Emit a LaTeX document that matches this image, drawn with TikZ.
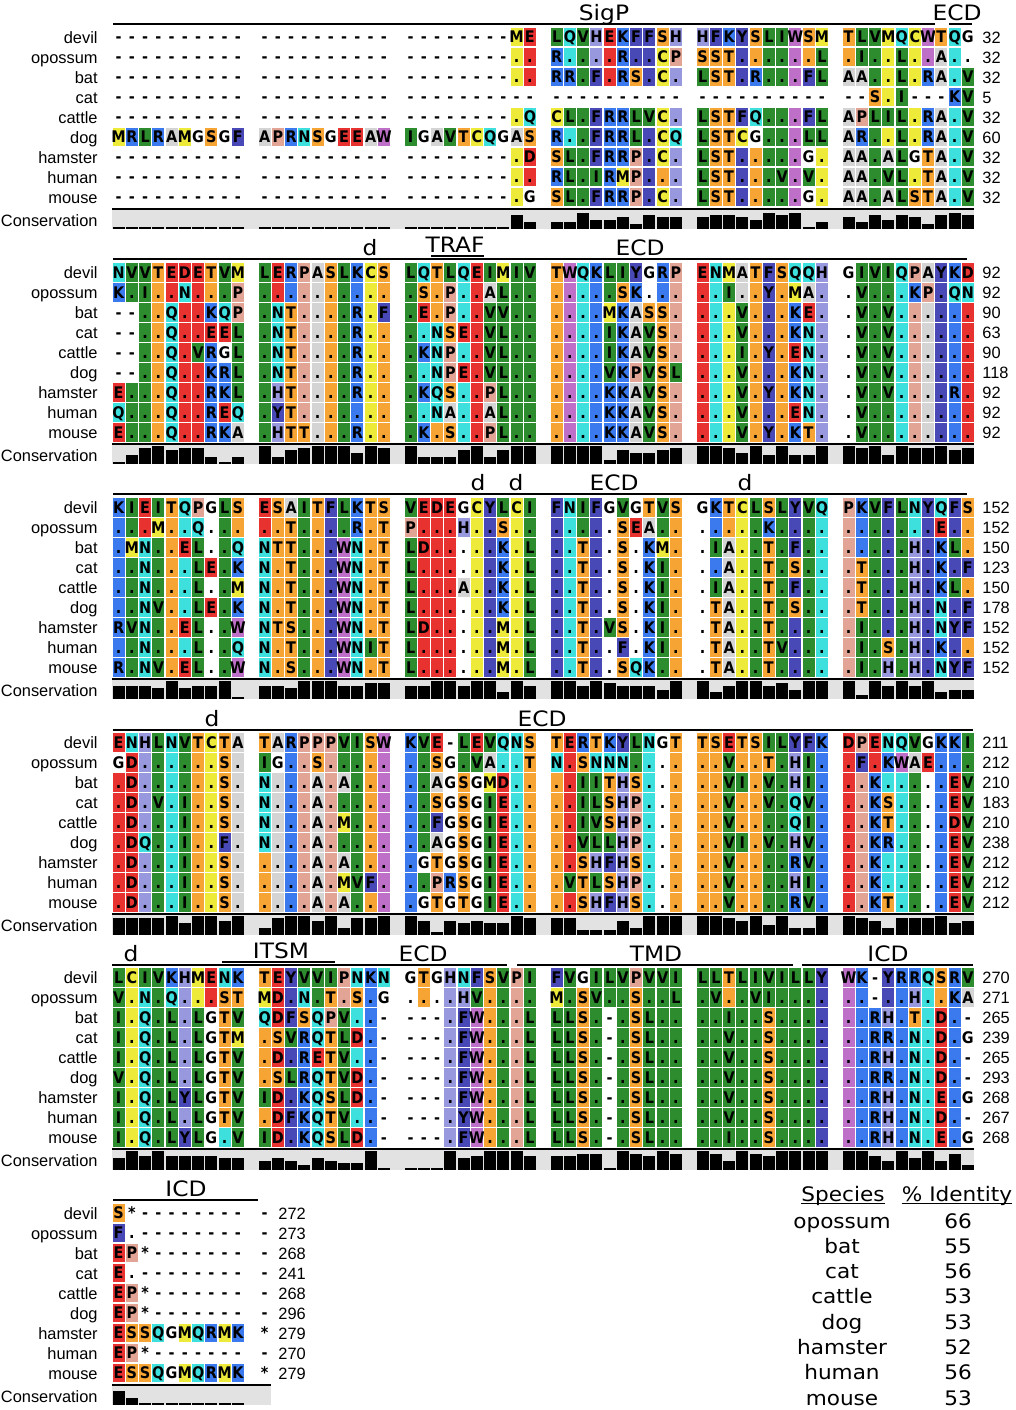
\documentclass[tikz,border=0pt]{standalone}
\usepackage{fontspec}
\setmainfont{DejaVu Sans}
\newfontfamily\resfont[FakeStretch=0.9]{DejaVu Sans}
\newfontfamily\hdrfont[FakeStretch=1.1]{DejaVu Sans}
\newfontfamily\tabfont[FakeStretch=1.08]{DejaVu Sans}
\newfontfamily\lblfont{Liberation Sans}
\usetikzlibrary{positioning}

% residue classes
\definecolor{hydro}{RGB}{45,140,45}
\definecolor{sulf}{RGB}{238,234,58}
\definecolor{acid}{RGB}{232,50,48}
\definecolor{amide}{RGB}{62,224,222}
\definecolor{basic}{RGB}{58,122,238}
\definecolor{hist}{RGB}{152,152,222}
\definecolor{arom}{RGB}{72,72,182}
\definecolor{trp}{RGB}{190,112,200}
\definecolor{hydrox}{RGB}{246,164,52}
\definecolor{pro}{RGB}{226,164,148}
\definecolor{ala}{RGB}{212,212,212}
\definecolor{consgrey}{RGB}{226,226,226}

\tikzstyle{res}=[inner sep=0pt, anchor=base, font=\resfont\bfseries\fontsize{8}{9}\selectfont]
\tikzstyle{spname}=[inner sep=0pt, anchor=base east, font=\lblfont\fontsize{8.2}{10}\selectfont]
\tikzstyle{endnum}=[inner sep=0pt, anchor=base west, font=\lblfont\fontsize{8.2}{10}\selectfont]
\tikzstyle{region}=[inner sep=0pt, anchor=base, font=\hdrfont\fontsize{10.6}{12}\selectfont]
\tikzstyle{regline}=[line width=1pt]
\tikzstyle{tabtext}=[inner sep=0pt, anchor=base, font=\tabfont\fontsize{10}{12}\selectfont]

\makeatletter
% letter -> colour
\def\rescol#1#2{\expandafter\def\csname fc-#1\endcsname{#2}}
\rescol{I}{hydro}\rescol{L}{hydro}\rescol{V}{hydro}
\rescol{M}{sulf}\rescol{C}{sulf}
\rescol{D}{acid}\rescol{E}{acid}
\rescol{N}{amide}\rescol{Q}{amide}
\rescol{K}{basic}\rescol{R}{basic}
\rescol{H}{hist}
\rescol{F}{arom}\rescol{Y}{arom}
\rescol{W}{trp}
\rescol{S}{hydrox}\rescol{T}{hydrox}
\rescol{P}{pro}
\rescol{A}{ala}

\newcount\colno
\newcount\blk
\def\dotch{.}
% count residues per column, keep the largest count
\newcommand\tallyres{%
  \if\fillch-\else\if\fillch*\else
    \edef\kname{k-\the\blk-\the\colno-\fillch}%
    \ifcsname\kname\endcsname
      \expandafter\xdef\csname\kname\endcsname{\the\numexpr\csname\kname\endcsname+1\relax}%
    \else
      \expandafter\xdef\csname\kname\endcsname{1}%
    \fi
    \edef\mxname{mx-\the\blk-\the\colno}%
    \ifcsname\mxname\endcsname\else\expandafter\xdef\csname\mxname\endcsname{0}\fi
    \ifnum\csname\kname\endcsname>\csname\mxname\endcsname\relax
      \expandafter\xdef\csname\mxname\endcsname{\csname\kname\endcsname}%
    \fi
  \fi\fi
}
\newcommand\drawres[2]{% #1 row, #2 residue
  \edef\resch{#2}%
  \ifx\resch\dotch
    \edef\fillch{\csname dv-\the\colno\endcsname}%
  \else
    \let\fillch\resch
  \fi
  \ifnum#1=0\relax
    \expandafter\xdef\csname dv-\the\colno\endcsname{\resch}%
  \fi
  \tallyres
  \pgfmathsetmacro\resx{112+146*int(\the\colno/10)+13.25*mod(\the\colno,10)}%
  \pgfmathsetmacro\resy{\basey+20*#1}%
  \ifcsname fc-\fillch\endcsname
    \edef\fillcol{\csname fc-\fillch\endcsname}%
    \fill[fill=\fillcol] (\resx+0.6,\resy-9.4) rectangle (\resx+12.65,\resy+9.4);
  \fi
  \node[res] (r-\the\blk-#1-\the\colno) at (\resx+6.62,\resy+5.8) {\resch};
  \global\advance\colno by 1
}
\newcommand\alnrow[3]{% #1 row, #2 residues, #3 end number
  \global\colno=0
  \@tfor\rch:=#2\do{\drawres{#1}{\rch}}%
  \node[endnum] (num-\the\blk-#1) at (\numx,\basey+20*#1+6) {#3};
}
\makeatother

\newcommand\spnames{%
  \foreach \nm [count=\i from 0] in {devil,opossum,bat,cat,cattle,dog,hamster,human,mouse}
    \node[spname] (sp-\the\blk-\i) at (98,\basey+20*\i+6) {\nm};
}
\newcommand\consrow[2]{% #1 last column, #2 right end
  \node[spname] (cons-\the\blk) at (98,\basey+189) {Conservation};
  \fill[consgrey] (112,\basey+172) rectangle (#2,\basey+192);
  \draw[line width=1pt] (112,\basey+171.5) -- (#2,\basey+171.5);
  \foreach \c in {0,...,#1}{
    \ifcsname mx-\the\blk-\c\endcsname
      \pgfmathsetmacro\resx{112+146*int(\c/10)+13.25*mod(\c,10)}
      \pgfmathsetmacro\barh{max(1.6,18.5*(\csname mx-\the\blk-\c\endcsname-1)/8)}
      \fill (\resx+0.6,\basey+192) rectangle (\resx+12.65,\basey+192-\barh);
    \fi
  }
}

\begin{document}
\begin{tikzpicture}[x=0.5pt,y=-0.5pt]
\useasboundingbox (0,0) rectangle (1016,1410);

% block 1
\def\basey{37}\def\numx{982}\global\blk=1
\spnames
\alnrow{0}{---------- ---------- --------ME LQVHEKFFSH HFKYSLIWSM TLVMQCWTQG}{32}
\alnrow{1}{---------- ---------- --------.. R....R..CP SST......L .I..L..A..}{32}
\alnrow{2}{---------- ---------- --------.. RR.F.RS.C. LST.R...FL AA..L.RA.V}{32}
\alnrow{3}{---------- ---------- ---------- ---------- ---------- --S.I---KV}{5}
\alnrow{4}{---------- ---------- --------.Q CL.FRRLVC. LSTFQ...FL APLIL.RA.V}{32}
\alnrow{5}{MRLRAMGSGF APRNSGEEAW IGAVTCQGAS R..FRRL.CQ LSTCG...LL AR..L.RA.V}{60}
\alnrow{6}{---------- ---------- --------.D SL.FRRP.C. LST.....G. AA.ALGTA.V}{32}
\alnrow{7}{---------- ---------- --------.. RL.IRMP... LST...V.V. AA.VL.TA.V}{32}
\alnrow{8}{---------- ---------- --------.G SL.FRRP.C. LST.....G. AA.ALSTA.V}{32}
\consrow{59}{974}
\draw[regline] (113,24) -- (935,24);
\draw[regline] (949,24) -- (972,24);
\node[region] (sigp) at (604,20.5) {SigP};
\node[region] (ecd-1) at (957,20.5) {ECD};

% block 2
\def\basey{272.2}\global\blk=2
\spnames
\alnrow{0}{NVVTEDETVM LERPASLKCS LQTLQEIMIV TWQKLIYGRP ENMATFSQQH GIVIQPAYKD}{92}
\alnrow{1}{K.I..N...P .......... .S.P..AL.. .....SK... ..I..Y.MA. .V...KP.QN}{92}
\alnrow{2}{--..Q..KQP .NT....R.F .E.P..VV.. ....MKASS. ...V...KE. .V.V......}{90}
\alnrow{3}{--..Q..EEL .NT....R.. ..NSE.VL.. ....IKAVS. ...V...KN. .V.V......}{63}
\alnrow{4}{--..Q.VRGL .NT....R.. .KNP..VL.. ....IKAVS. ...I.Y.EN. .V.V......}{90}
\alnrow{5}{--..Q..KRL .NT....R.. ..NPE.VL.. ....VKPVSL ...V...KN. .V.V......}{118}
\alnrow{6}{E...Q..RKL .HT....R.. .KQS..PL.. ....KKAVS. ...V.Y.KN. .V.V....R.}{92}
\alnrow{7}{Q...Q..REQ .YT....... ..NA..AL.. ....KKAVS. ...V...EN. .V........}{92}
\alnrow{8}{E...Q..RKA .HTT...R.. .K.S..PL.. ....KKAVS. ...V.Y.KT. .V........}{92}
\consrow{59}{974}
\draw[regline] (113,259.2) -- (967,259.2);
\draw[regline] (431,256.2) -- (484,256.2);
\node[region] (d-2a) at (370,255.7) {d};
\node[region] (traf) at (455,252.7) {TRAF};
\node[region] (ecd-2) at (640,255.7) {ECD};

% block 3
\def\basey{507.4}\global\blk=3
\spnames
\alnrow{0}{KIEITQPGLS ESAITFLKTS VEDEGCYLCI FNIFGVGTVS GKTCLSLYVQ PKVFLNYQFS}{152}
\alnrow{1}{...M..Q... ..T....R.T P...H..S.. .....SEA.. .....K.... .......E..}{152}
\alnrow{2}{.MN..EL..Q NTT...WN.T LD.....K.L ..T..S.KM. .IA..T.F.. .....H.KL.}{150}
\alnrow{3}{..N...LE.K N.T...WN.T L......K.L ..T..S.KI. ..A..T.S.. .T...H.K.F}{123}
\alnrow{4}{..N...L..M N.T...WN.T L...A..K.L ..T..S.KI. .IA..T.F.. .T...H.KL.}{150}
\alnrow{5}{..NV..LE.K N.T...WN.T L......K.L ..T..S.KI. .TA..T.S.. .T...H.N.F}{178}
\alnrow{6}{RVN..EL..W NTS...WN.T LD.....M.L ..T.VS.KI. .TA..T.... .I...H.NYF}{152}
\alnrow{7}{..N...L..Q N.T...WNIT L......M.L ..T..F.KI. .TA..TV... .I.S.H.K..}{152}
\alnrow{8}{R.NV.EL..W N.S...WN.T L......M.L ..T..SQK.. .TA..T.... .I.H.H.NYF}{152}
\consrow{59}{974}
\draw[regline] (113,494.4) -- (967,494.4);
\node[region] (d-3a) at (478,490.9) {d};
\node[region] (d-3b) at (516,490.9) {d};
\node[region] (ecd-3) at (614,490.9) {ECD};
\node[region] (d-3c) at (745,490.9) {d};

% block 4
\def\basey{742.6}\global\blk=4
\spnames
\alnrow{0}{ENHLNVTCTA TARPPPVISW KVE-LEVQNS TERTKYLNGT TSETSILYFK DPENQVGKKI}{211}
\alnrow{1}{GD......S. IG..S..... ..SG.VA..T N.SNNN.... ..V..T.HI. .F.KWAE...}{212}
\alnrow{2}{.D......S. N...A.A... ..AGSGMD.. ..IITHS... ..VI.V.HI. ..K.....EV}{210}
\alnrow{3}{.D.V.I..S. N...A..... ..SGSGIE.. ..ILSHP... ..V..V.QV. ..KS....EV}{183}
\alnrow{4}{.D...I..S. N...A.M... ..FGSGIE.. ..IVSHP... ..V....QI. ..KT....DV}{210}
\alnrow{5}{.DQ..I..F. N...A..... ..AGSGIE.. ..VLLHP... ..VI.V.HV. ..KR....EV}{238}
\alnrow{6}{.D...I..S. ....A.A... .GTGSGIE.. ..SHFHS... ..V....RV. ..K.....EV}{212}
\alnrow{7}{.D...I..S. ....A.MVF. ..PRSGIE.. .VTLSHP... ..V....HI. ..K.....EV}{212}
\alnrow{8}{.D...I..S. ....A.A... .GTGTGIE.. ..SHFHS... ..V....RV. ..KT....EV}{212}
\consrow{59}{974}
\draw[regline] (113,729.6) -- (973,729.6);
\node[region] (d-4) at (212,726.1) {d};
\node[region] (ecd-4) at (542,726.1) {ECD};

% block 5
\def\basey{977.8}\global\blk=5
\spnames
\alnrow{0}{LCIVKHMENK TEYVVIPNKN GTGHNFSVPI FVGILVPVVI LLTLIVILLY WK-YRRQSRV}{270}
\alnrow{1}{V.N.Q...ST MD.N.T.S.G ....HV.... M.SV..S..L .V..VI.... ..-..H..KA}{271}
\alnrow{2}{I.Q.L.LGTV QDFSQPV..- ---.FW...L LLS.-.SL.. ..I..S.... ..RH.T.D.-}{265}
\alnrow{3}{I.Q.L.LGTM .SVRQTLD.- ---.FW...L LLS.-.SL.. ..V..S.... ..RR.N.D.G}{239}
\alnrow{4}{I.Q.L.LGTV .D.RETV..- ---.FW...L LLS.-.SL.. ..V..S.... ..RH.N.D.-}{265}
\alnrow{5}{V.Q.L.LGTV .SLRQTVD.- ---.FW...L LLS.-.SL.. ..V..S.... ..RR.N.D.-}{293}
\alnrow{6}{I.Q.LYLGTV ID.KQSLD.- ---.FW...L LLS.-.SL.. ..V..S.... ..RH.N.E.G}{268}
\alnrow{7}{I.Q.L.LGTV .DFKQTV..- ---.YW...L LLS.-.SL.. ..V..S.... ..RH.N.D.-}{267}
\alnrow{8}{I.Q.LYLG.V ID.KQSLD.- ---.FW...L LLS.-.SL.. ..I..S.... ..RH.N.E.G}{268}
\consrow{59}{974}
\draw[regline] (112,965) -- (507,965);
\draw[regline] (517,965) -- (793,965);
\draw[regline] (802,965) -- (973,965);
\draw[regline] (222,962) -- (335,962);
\node[region] (d-5) at (131,961.3) {d};
\node[region] (itsm) at (281,958.3) {ITSM};
\node[region] (ecd-5) at (423,961.3) {ECD};
\node[region] (tmd) at (656,961.3) {TMD};
\node[region] (icd-5) at (888,961.3) {ICD};

% block 6
\def\basey{1213}\def\numx{278}\global\blk=6
\spnames
\alnrow{0}{S*-------- -}{272}
\alnrow{1}{F.-------- -}{273}
\alnrow{2}{EP*------- -}{268}
\alnrow{3}{E.-------- -}{241}
\alnrow{4}{EP*------- -}{268}
\alnrow{5}{EP*------- -}{296}
\alnrow{6}{ESSQGMQRMK *}{279}
\alnrow{7}{EP*------- -}{270}
\alnrow{8}{ESSQGMQRMK *}{279}
\consrow{10}{271}
\draw[regline] (113,1200) -- (258,1200);
\node[region] (icd-6) at (186,1196.5) {ICD};

% identity table
\node[tabtext] (sphead) at (843,1201) {Species};
\node[tabtext] (idhead) at (957,1201) {\% Identity};
\draw ([yshift=-1.2pt]sphead.base west) -- ([yshift=-1.2pt]sphead.base east);
\draw ([yshift=-1.2pt]idhead.base west) -- ([yshift=-1.2pt]idhead.base east);
\foreach \sp/\pid [count=\i from 0] in {opossum/66,bat/55,cat/56,cattle/53,dog/53,hamster/52,human/56,mouse/53}{
  \node[tabtext] (tsp-\i) at (842,1228+25.3*\i) {\sp};
  \node[tabtext] (tid-\i) at (958,1228+25.3*\i) {\pid};
}
\end{tikzpicture}
\end{document}
